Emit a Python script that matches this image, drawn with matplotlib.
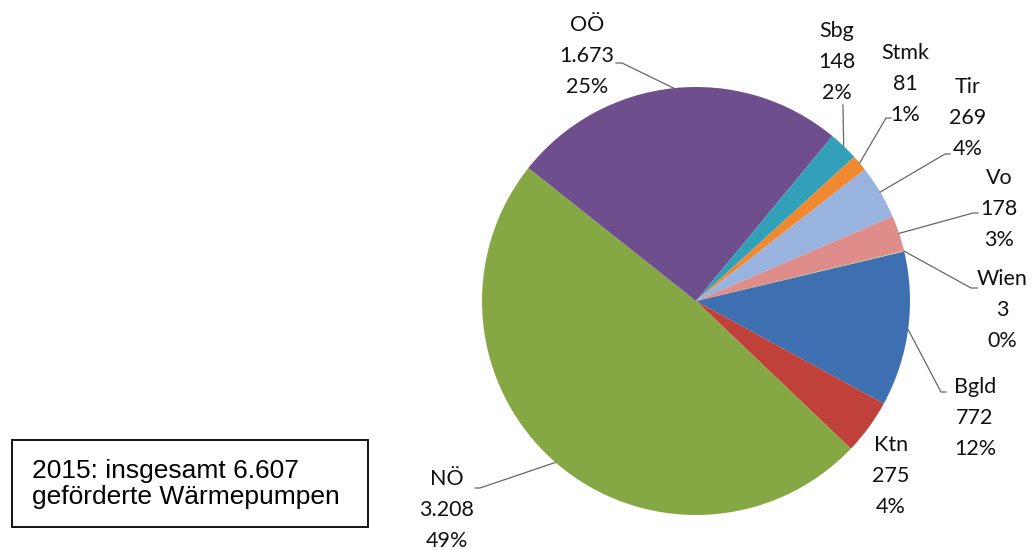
import numpy as np
import matplotlib.pyplot as plt
from matplotlib.patches import Rectangle

# data
regions = ["Bgld", "Ktn", "NÖ", "OÖ", "Sbg", "Stmk", "Tir", "Vo", "Wien"]
counts = [772, 275, 3208, 1673, 148, 81, 269, 178, 3]
colors = ["#3E6FB0", "#C0403A", "#86A844", "#6F4E8E", "#31A0B8",
          "#F08830", "#97B3DE", "#DE8D8A", "#A9C97A"]
total_text = "2015: insgesamt 6.607\ngeförderte Wärmepumpen"

W, H = 1035, 550
cx, cy, r = 696, H - 301, 214

# label layout (image pixel coords, y from top)
label_pos = {"Bgld": (975, 418), "Ktn": (891, 476), "NÖ": (447, 510),
             "OÖ": (587, 56), "Sbg": (837, 62), "Stmk": (905, 84),
             "Tir": (968, 118), "Vo": (999, 209), "Wien": (1002, 310)}
# leader line start near the label + elbow
leader_start = {"Bgld": [(946, 392), (941, 392)], "NÖ": [(475, 488), (480, 488)],
                "OÖ": [(616, 63), (622, 63)], "Sbg": [(843, 105), (843, 107)],
                "Stmk": [(891, 118), (886, 118)], "Tir": [(950, 154), (945, 154)],
                "Vo": [(978, 213), (973, 213)], "Wien": [(977, 288), (971, 288)]}

fig = plt.figure(figsize=(W / 100, H / 100), dpi=100)
ax = fig.add_axes([0, 0, 1, 1])
ax.axis("off")

wedges, _ = ax.pie(counts, colors=colors, startangle=13.4, counterclock=False,
                   center=(cx, cy), radius=r, wedgeprops=dict(linewidth=0))
ax.set_xlim(0, W)
ax.set_ylim(0, H)
ax.set_aspect("equal")

total = sum(counts)
for name, val, w in zip(regions, counts, wedges):
    lx, ly = label_pos[name]
    txt = f"{name}\n{val:,}".replace(",", ".") + f"\n{round(val / total * 100)}%"
    ax.text(lx, H - ly, txt, ha="center", va="center", fontsize=15.5,
            family="Lato", linespacing=1.66, color="#111111")
    if name in leader_start:
        mid = np.deg2rad((w.theta1 + w.theta2) / 2)
        ex, ey = cx + r * np.cos(mid), cy + r * np.sin(mid)
        pts = leader_start[name]
        xs = [p[0] for p in pts] + [ex]
        ys = [H - p[1] for p in pts] + [ey]
        ax.plot(xs, ys, color="#666666", lw=0.9)

ax.add_patch(Rectangle((12, H - 527), 356, 87, fill=False, edgecolor="black", lw=1.3))
ax.text(32, H - 484, total_text, ha="left", va="center", fontsize=19,
        family="Liberation Sans", linespacing=1.08)

fig.savefig("out.png", dpi=100)
